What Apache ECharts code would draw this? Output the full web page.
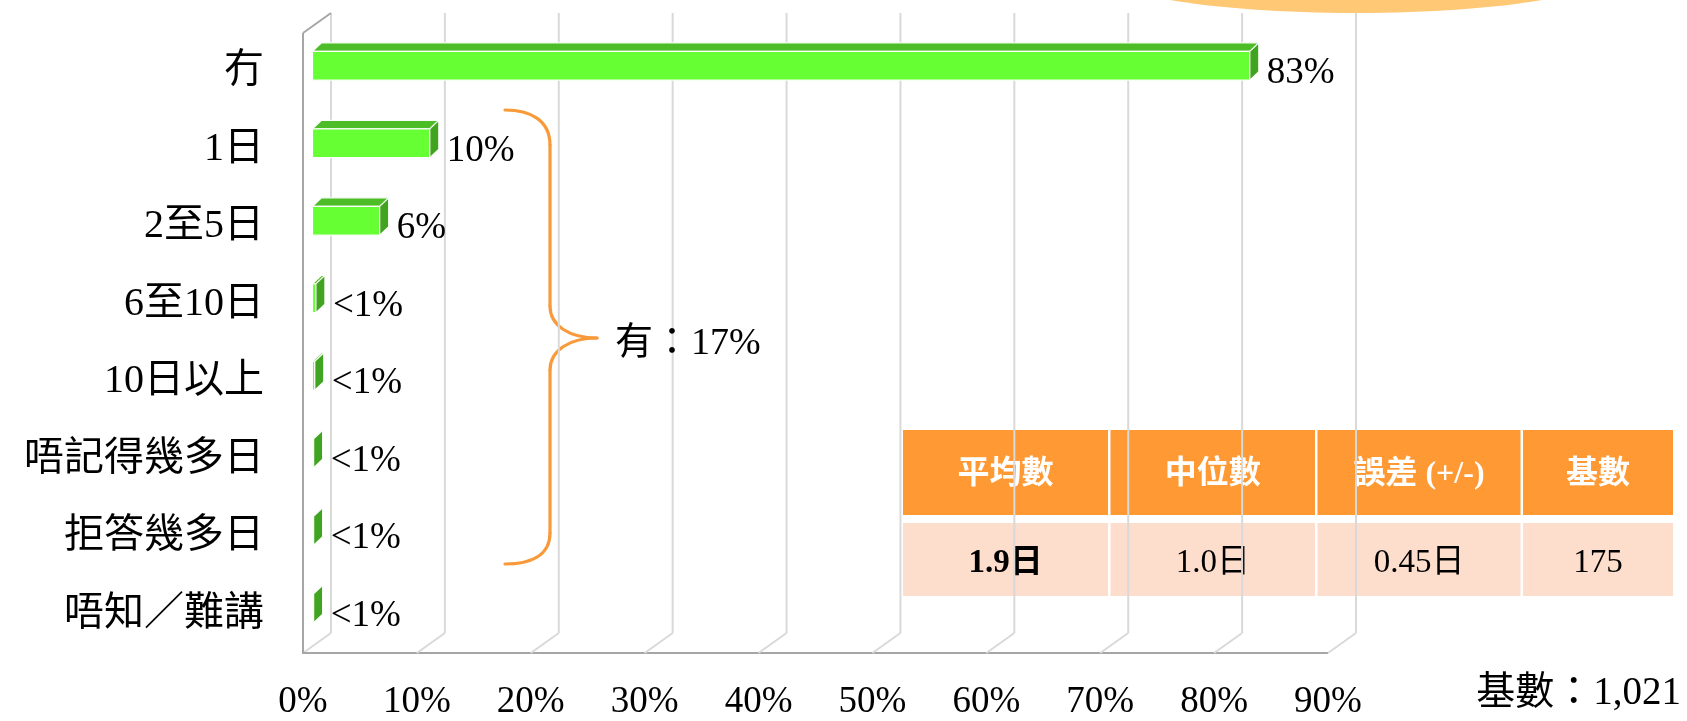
<!DOCTYPE html>
<html><head><meta charset="utf-8">
<script src="https://cdn.jsdelivr.net/npm/echarts@6/dist/echarts.min.js"></script>
<style>html,body{margin:0;padding:0;background:#fff}#c{width:1687px;height:721px}</style>
</head><body><div id="c"></div>
<script>
// ---- data ----
const categories = ['冇', '1日', '2至5日', '6至10日', '10日以上', '唔記得幾多日', '拒答幾多日', '唔知／難講'];
const values = [82.3, 10.3, 5.9, 0.3, 0.2, 0.1, 0.1, 0.1];
const valueLabels = ['83%', '10%', '6%', '<1%', '<1%', '<1%', '<1%', '<1%'];
const xTicks = [0, 10, 20, 30, 40, 50, 60, 70, 80, 90];
const braceLabel = '有：17%';
const tableHeaders = ['平均數', '中位數', '誤差 (+/-)', '基數'];
const tableValues = ['1.9日', '1.0日', '0.45日', '175'];
const baseLabel = '基數：1,021';

// ---- styling ----
const SERIF = '"Liberation Serif","Noto Sans CJK TC"';
const DX = 28, DY = -20;          // frame depth offset
const BDX = 9, BDY = -8.5;        // bar depth
const OFFX = 9.5, OFFY = -6;      // bar placement inside depth

function renderFrame(params, api) {
  const cs = params.coordSys;
  const v = api.value(0);
  const x = api.coord([v, 0])[0];
  const top = cs.y, bot = cs.y + cs.height;
  const children = [
    {type: 'line', shape: {x1: x + DX, y1: top + DY, x2: x + DX, y2: bot + DY}, style: {stroke: '#D9D9D9', lineWidth: 2}},
    {type: 'line', shape: {x1: x + DX, y1: bot + DY, x2: x, y2: bot}, style: {stroke: '#D9D9D9', lineWidth: 2}}
  ];
  if (v === xTicks[0]) {
    const xEnd = api.coord([xTicks[xTicks.length - 1], 0])[0];
    children.push(
      {type: 'line', shape: {x1: x, y1: top, x2: x, y2: bot}, style: {stroke: '#A6A6A6', lineWidth: 2}},
      {type: 'line', shape: {x1: x, y1: top, x2: x + DX, y2: top + DY}, style: {stroke: '#A6A6A6', lineWidth: 2}},
      {type: 'line', shape: {x1: x - 1, y1: bot, x2: xEnd, y2: bot}, style: {stroke: '#A6A6A6', lineWidth: 2}}
    );
  }
  return {type: 'group', children};
}

function renderBar(params, api) {
  const v = api.value(0), c = api.value(1);
  const p0 = api.coord([0, c]), p1 = api.coord([v, c]);
  const bh = api.size([0, 1])[1] * 0.372;
  const xl = p0[0] + OFFX, xr = p1[0] + OFFX;
  const yc = p0[1] + OFFY, yt = yc - bh / 2, yb = yc + bh / 2;
  const edge = {stroke: 'rgba(255,255,255,0.95)', lineWidth: 1.2};
  return {
    type: 'group',
    children: [
      {type: 'polygon', shape: {points: [[xl, yt], [xl + BDX, yt + BDY], [xr + BDX, yt + BDY], [xr, yt]]},
        style: Object.assign({fill: '#4DBD27'}, edge)},
      {type: 'rect', shape: {x: xl, y: yt, width: Math.max(xr - xl, 0.01), height: bh},
        style: Object.assign({fill: '#66FF33'}, edge)},
      {type: 'polygon', shape: {points: [[xr, yt], [xr + BDX, yt + BDY], [xr + BDX, yb + BDY], [xr, yb]]},
        style: Object.assign({fill: '#41A420'}, edge)},
      {type: 'text', style: {text: valueLabels[params.dataIndex], x: xr + 17, y: yc + 8,
        verticalAlign: 'middle', align: 'left', font: '37px "Liberation Serif"', fill: '#000'}}
    ]
  };
}

// table graphic
const colX = [903, 1110.5, 1317.5, 1523];
const colW = [205, 204.5, 203, 150];
const tableEls = [{type: 'rect', shape: {x: 898, y: 425, width: 780, height: 176}, style: {fill: '#fff'}}];
tableHeaders.forEach((h, i) => {
  tableEls.push({type: 'rect', shape: {x: colX[i], y: 430, width: colW[i], height: 85}, style: {fill: '#FF9933'}});
  tableEls.push({type: 'text', style: {text: h, x: colX[i] + colW[i] / 2, y: 475, align: 'center', verticalAlign: 'middle',
    font: 'bold 32px ' + SERIF, fill: '#fff'}});
});
tableValues.forEach((t, i) => {
  tableEls.push({type: 'rect', shape: {x: colX[i], y: 523, width: colW[i], height: 73}, style: {fill: '#FDDDCB'}});
  tableEls.push({type: 'text', style: {text: t, x: colX[i] + colW[i] / 2, y: 563, align: 'center', verticalAlign: 'middle',
    font: (i === 0 ? 'bold ' : '') + '33px ' + SERIF, fill: '#000'}});
});

const braceStyle = {stroke: '#F99A3A', lineWidth: 3.2, fill: 'none', lineCap: 'round'};
const braceEls = [
  {type: 'bezierCurve', shape: {x1: 505, y1: 110, cpx1: 530, cpy1: 110, cpx2: 550, cpy2: 120, x2: 550, y2: 145}, style: braceStyle},
  {type: 'line', shape: {x1: 550, y1: 145, x2: 550, y2: 306}, style: braceStyle},
  {type: 'bezierCurve', shape: {x1: 550, y1: 306, cpx1: 550, cpy1: 326, cpx2: 570, cpy2: 338, x2: 597, y2: 338}, style: braceStyle},
  {type: 'bezierCurve', shape: {x1: 597, y1: 338, cpx1: 570, cpy1: 338, cpx2: 550, cpy2: 350, x2: 550, y2: 370}, style: braceStyle},
  {type: 'line', shape: {x1: 550, y1: 370, x2: 550, y2: 533}, style: braceStyle},
  {type: 'bezierCurve', shape: {x1: 550, y1: 533, cpx1: 550, cpy1: 556, cpx2: 530, cpy2: 564, x2: 505, y2: 564}, style: braceStyle}
];

const chart = echarts.init(document.getElementById('c'), null, {renderer: 'canvas'});
chart.setOption({
  animation: false,
  backgroundColor: '#fff',
  grid: {left: 303, top: 33, width: 1025, height: 625},
  xAxis: {
    type: 'value', min: 0, max: 90, interval: 10,
    axisLabel: {formatter: '{value}%', fontSize: 37, fontFamily: '"Liberation Serif"', color: '#000', margin: 31},
    axisLine: {show: false}, axisTick: {show: false}, splitLine: {show: false}
  },
  yAxis: {
    type: 'category', inverse: true, data: categories,
    axisLabel: {interval: 0, fontSize: 40, fontFamily: SERIF, color: '#000', margin: 39},
    axisLine: {show: false}, axisTick: {show: false}, splitLine: {show: false}
  },
  series: [
    {type: 'custom', z: 1, clip: false, renderItem: renderFrame, data: xTicks.map(t => [t, 0]), silent: true},
    {type: 'custom', z: 3, clip: false, renderItem: renderBar, data: values.map((v, i) => [v, i])}
  ],
  graphic: [
    {type: 'ellipse', z: 5, shape: {cx: 1356, cy: -27, rx: 252, ry: 40}, style: {fill: '#FFC875'}},
    {type: 'group', z: 5, children: braceEls},
    {type: 'text', z: 5, style: {text: braceLabel, x: 615, y: 344, verticalAlign: 'middle', font: '38px ' + SERIF, fill: '#000'}},
    {type: 'text', z: 5, style: {text: baseLabel, x: 1681, y: 694, align: 'right', verticalAlign: 'middle', font: '39px ' + SERIF, fill: '#000'}},
    {type: 'group', z: 6, children: tableEls}
  ]
});
</script></body></html>
